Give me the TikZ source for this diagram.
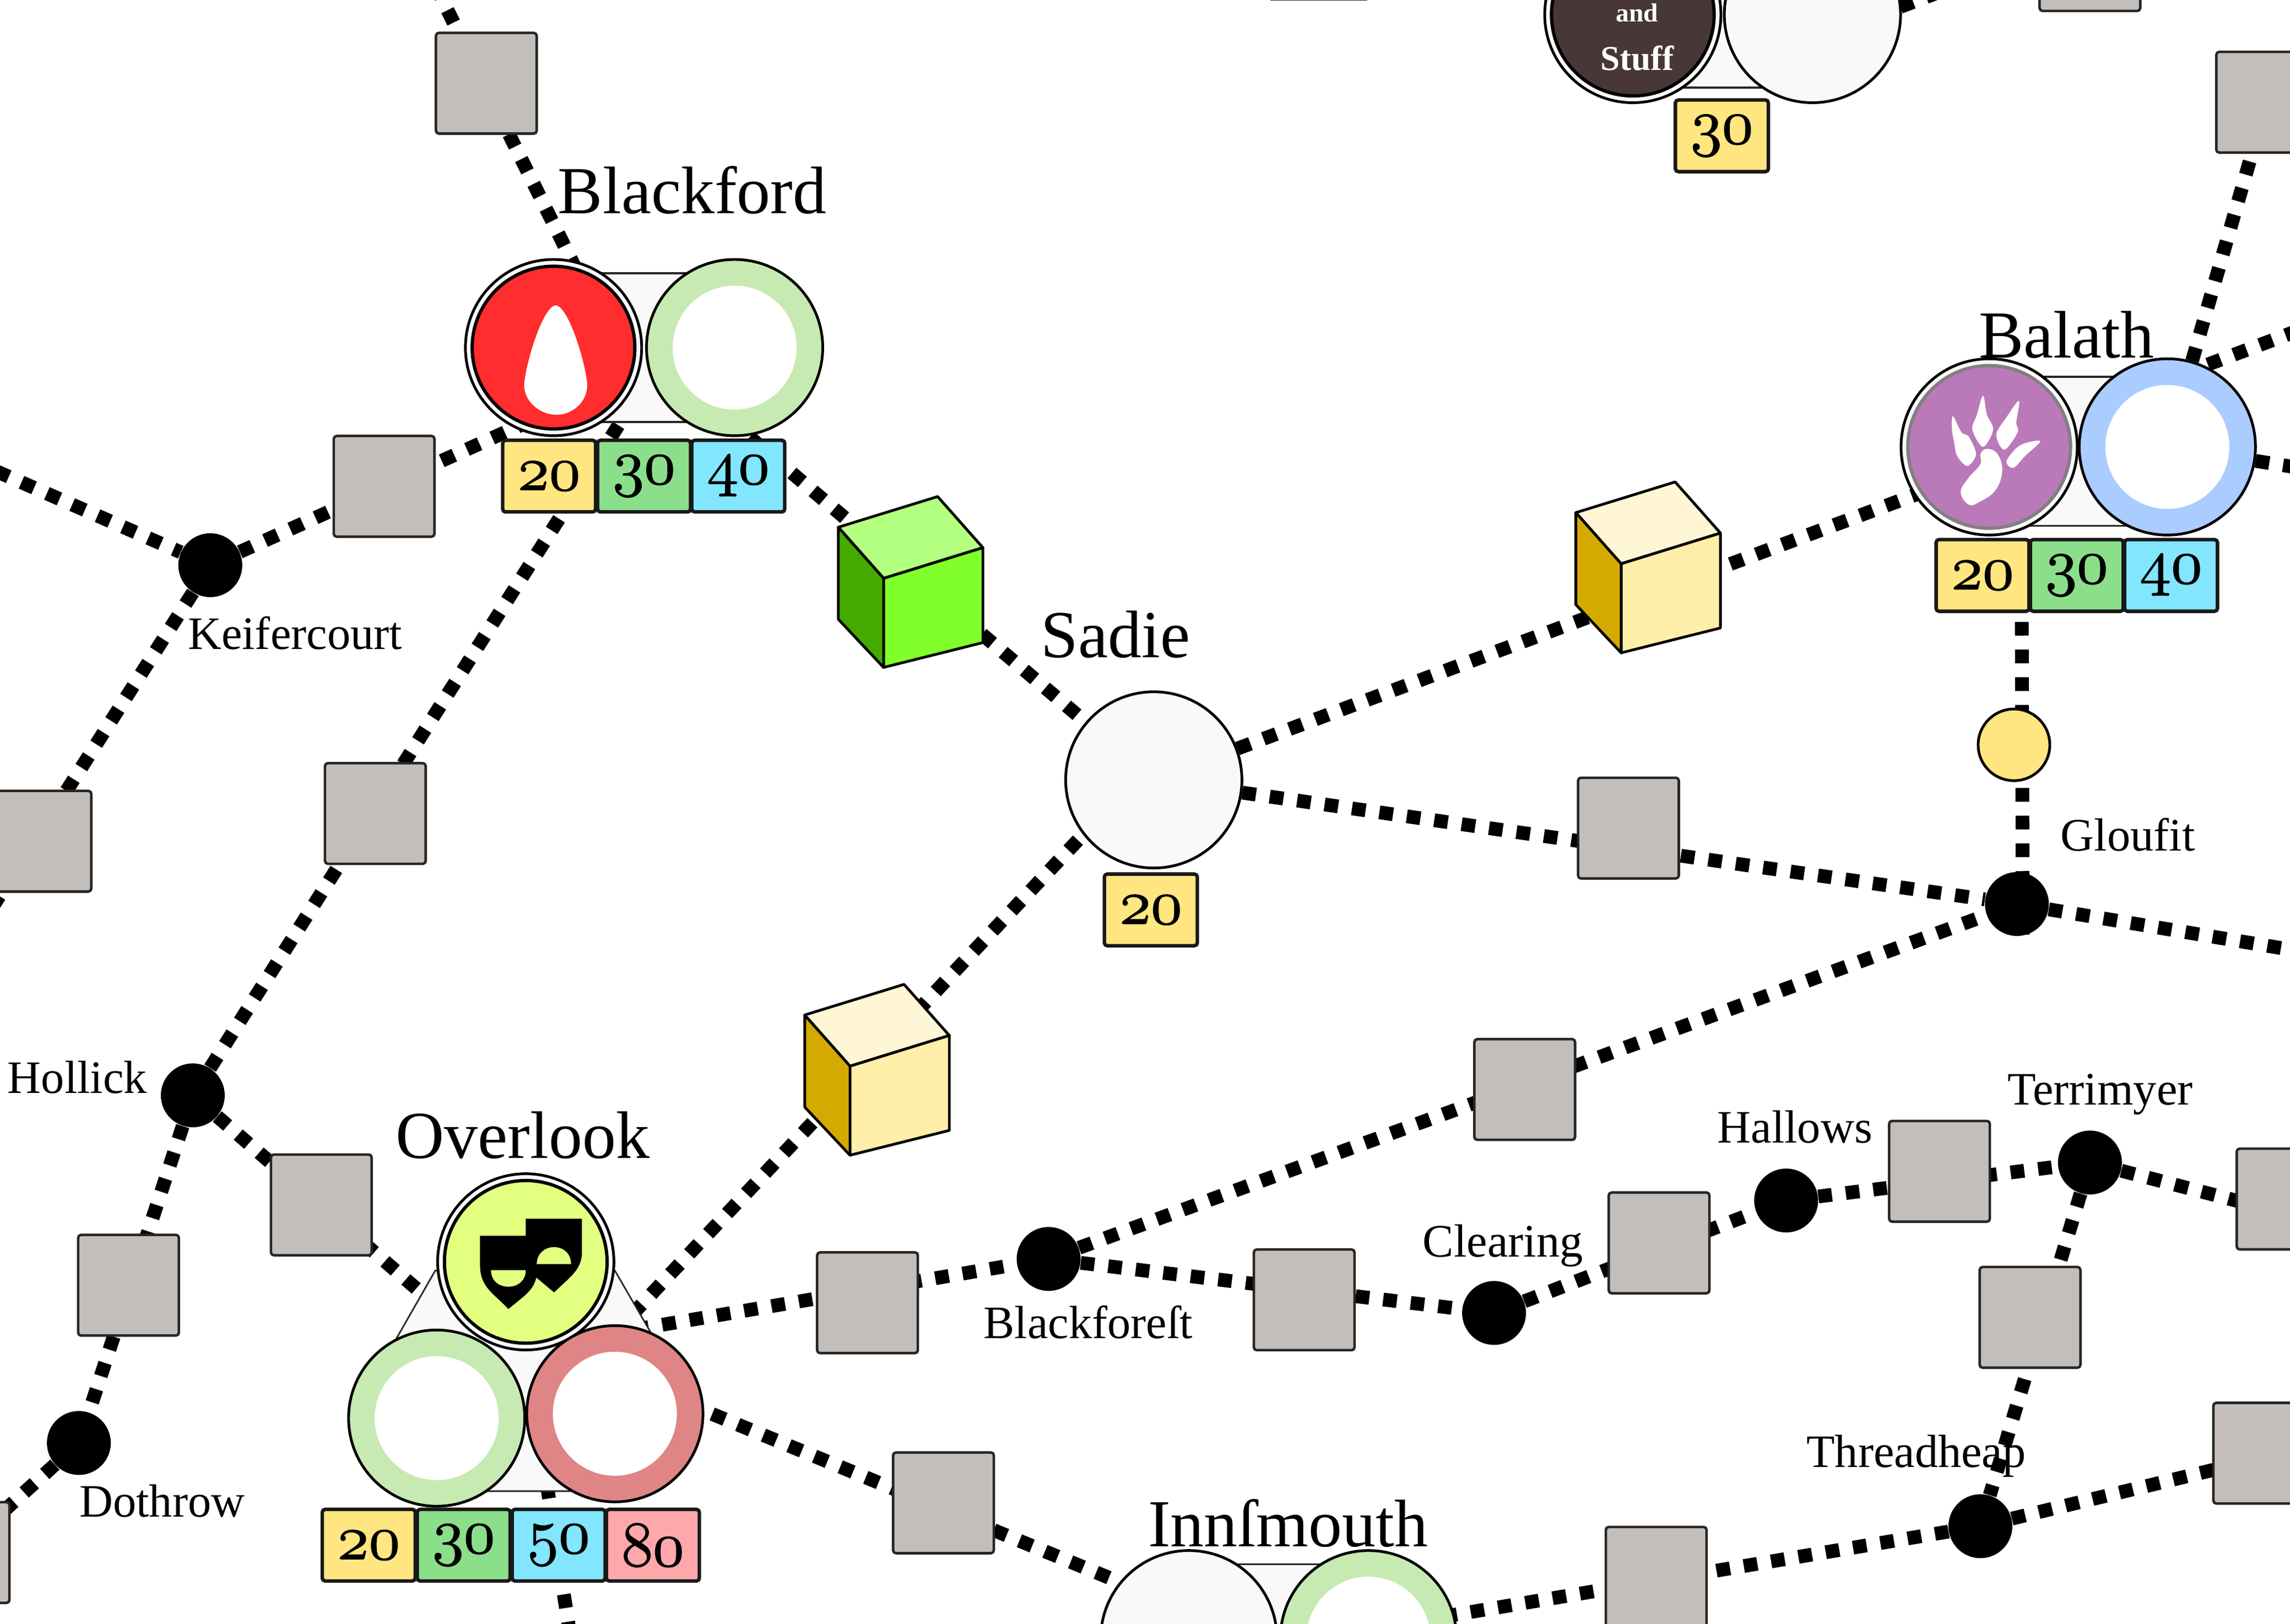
\documentclass[tikz,border=0pt]{standalone}
\usepackage{fix-cm}
\usepackage{amsmath}
\usepackage{fontspec}
\setmainfont{Liberation Serif}
\usepackage{tikz}
\usetikzlibrary{backgrounds}
\definecolor{sitegray}{HTML}{C3BEB9}
\definecolor{palecity}{HTML}{F9F9F9}
\definecolor{fareA}{HTML}{FFE680}
\definecolor{fareB}{HTML}{8BDF8B}
\definecolor{fareC}{HTML}{82E6FF}
\definecolor{fareD}{HTML}{FFA8AB}
\definecolor{ringG}{HTML}{C7EAB2}
\definecolor{ringR}{HTML}{DF8585}
\definecolor{ringB}{HTML}{AACCFF}
\definecolor{lime}{HTML}{E2FF80}
\definecolor{bloodred}{HTML}{FF2D2D}
\definecolor{mauve}{HTML}{BA79B9}
\definecolor{darkbrown}{HTML}{483737}
\definecolor{crateGa}{HTML}{B3FF80}
\definecolor{crateGb}{HTML}{80FF2A}
\definecolor{crateGc}{HTML}{44AA00}
\definecolor{crateYa}{HTML}{FFF6D5}
\definecolor{crateYb}{HTML}{FFEEAA}
\definecolor{crateYc}{HTML}{D4AA00}
\newcommand{\osn}[1]{{\special{pdf:literal direct 2 Tr 0.5 w}\usefont{OML}{cmm}{m}{it}#1\special{pdf:literal direct 0 Tr}}}
\newcommand{\crate}[5]{\begin{scope}[shift={(#2)},line width=1.4pt,line join=round]
\node[coordinate] (#1) at (49,30) {};
\draw[fill=#3] (0,0) -- (68,-21) -- (99,14) -- (31,35) -- cycle;
\draw[fill=#4] (31,35) -- (99,14) -- (99,79) -- (31,96) -- cycle;
\draw[fill=#5] (0,0) -- (31,35) -- (31,96) -- (0,63) -- cycle;
\end{scope}}
\begin{document}
\begin{tikzpicture}[x=0.02651cm,y=-0.02651cm,city/.style={shape=circle,draw=black,line width=1.4pt,minimum size=91pt,inner sep=0pt,fill=palecity},core/.style={city,minimum size=84pt,line width=1.7pt},hole/.style={shape=circle,fill=white,minimum size=64pt,inner sep=0pt},site/.style={shape=rectangle,rounded corners=1.5pt,draw=black!85,fill=sitegray,line width=1.3pt,minimum size=52pt,inner sep=0pt},hamlet/.style={shape=circle,fill=black,minimum size=33pt,inner sep=0pt},gold/.style={shape=circle,draw=black,line width=1.4pt,fill=fareA,minimum size=37pt,inner sep=0pt},fare/.style={shape=rectangle,rounded corners=1.5pt,draw=black!90,line width=1.8pt,minimum width=48pt,minimum height=37pt,inner sep=0pt,font=\fontsize{33}{35}\selectfont},link/.style={draw=black!85,fill=palecity,line width=1pt},road/.style={line width=7.1pt,dash pattern=on 7.1pt off 7.2pt},big/.style={anchor=base,inner sep=0pt,font=\fontsize{34.7}{38}\selectfont},small/.style={anchor=base,inner sep=0pt,font=\fontsize{24}{28}\selectfont}]
\useasboundingbox (0,0) rectangle (1568,1111.7);

% sites
\node[site] (sqa) at (333,57) {};
\node[site] (sqb) at (263,333) {};
\node[site] (sqc) at (257,557) {};
\node[site] (sqd) at (28,576) {};
\node[site] (sqe) at (220,825) {};
\node[site] (sqf) at (88,880) {};
\node[site] (sqg) at (594,892) {};
\node[site] (sqh) at (646,1029) {};
\node[site] (sqi) at (1044,746) {};
\node[site] (sqj) at (893,890) {};
\node[site] (sqk) at (1136,851) {};
\node[site] (sql) at (1328,802) {};
\node[site] (sqm) at (1390,902) {};
\node[site] (sqn) at (1115,567) {};
\node[site] (sqo) at (1134,1080) {};
\node[site] (sqp) at (1550,995) {};
\node[site] (sqq) at (1566,821) {};
\node[site] (sqr) at (1552,70) {};
\node[site] (sqs) at (1431,-27) {};
\node[site] (sqt) at (-28,1063) {};
\node[site] (squ) at (903,-35) {};

% hamlets
\node[hamlet] (keifer) at (144,387) {};
\node[hamlet] (hollick) at (132,750) {};
\node[hamlet] (dothrow) at (54,988) {};
\node[hamlet] (blackfor) at (718,862) {};
\node[hamlet] (clearing) at (1023,899) {};
\node[hamlet] (hallows) at (1223,822) {};
\node[hamlet] (terri) at (1431,796) {};
\node[hamlet] (thread) at (1356,1045) {};
\node[hamlet] (gloufit) at (1381,619) {};
\node[gold] (goldA) at (1379,510) {};

% road ends
\coordinate (offa) at (298,-10);
\coordinate (offb) at (-20,315);
\coordinate (offc) at (1585,653);
\coordinate (offd) at (1585,222);
\coordinate (offe) at (1585,322);
\coordinate (offf) at (392,1130);
\coordinate (offg) at (1345,-12);
\coordinate (offh) at (1600,840);
\coordinate (offi) at (1600,986);
\coordinate (offj) at (-20,1055);
\coordinate (offk) at (-30,660);
\coordinate (blackn) at (421,238);
\coordinate (blackk) at (441,253);
\coordinate (blacks) at (456,240);
\coordinate (blackford) at (441,238);
\coordinate (balathw) at (1423,297);
\coordinate (balathe) at (1423,283);
\coordinate (balathb) at (1384,312);
\coordinate (gloufs) at (1385,640);
\coordinate (sadiea) at (790,520);
\coordinate (overw) at (360,947);
\coordinate (overn) at (400,935);
\coordinate (overe) at (360,923);
\coordinate (overs) at (400,932);
\coordinate (innw) at (875,1128);
\coordinate (inne) at (875,1126);
\coordinate (tops) at (1248,25);

% crates
\crate{cubeA}{574,361}{crateGa}{crateGb}{crateGc}
\crate{cubeB}{1079,351}{crateYa}{crateYb}{crateYc}
\crate{cubeC}{551,695}{crateYa}{crateYb}{crateYc}

% Blackford
\draw[link] (379,187) rectangle (503,289);
\node[city] (bfa) at (379,238) {};
\node[core,fill=bloodred] (bfb) at (379,238) {};
\fill[white] (380.5,209) .. controls (372,210) and (361,245) .. (359,262) .. controls (358,275) and (370,284) .. (381,284) .. controls (392,284) and (403,275) .. (402,262) .. controls (400,245) and (389,210) .. (380.5,209) -- cycle;
\node[city,fill=ringG] (bfc) at (503,238) {};
\node[hole] (bfd) at (503,238) {};

% Sadie
\node[city] (sadie) at (790,534) {};

% Balath
\draw[link] (1362,258) rectangle (1484,360);
\node[city] (baa) at (1362,306) {};
\node[core,fill=mauve,draw=black!50] (bab) at (1362,306) {};
\begin{scope}[shift={(1362,306)}]
\fill[white] plot[smooth cycle,tension=0.55] coordinates {(-24.8,-21) (-19,-10) (-14,-7) (-9,5) (-15,13) (-22,6) (-24,-3.4) (-25.5,-12)};
\fill[white] plot[smooth cycle,tension=0.55] coordinates {(-4.2,-35) (-1.5,-22) (2.7,-11.8) (-4.2,0) (-11.5,-11.8) (-8.4,-22)};
\fill[white] plot[smooth cycle,tension=0.55] coordinates {(20.4,-31.5) (18.6,-16.8) (19.5,-10) (10.4,2) (4.9,-8.4) (11.8,-20.2)};
\fill[white] plot[smooth cycle,tension=0.55] coordinates {(35,-3.7) (24.9,5.9) (16.7,14.3) (11.8,10) (18.6,0.8) (26,-3)};
\fill[white] plot[smooth cycle,tension=0.7] coordinates {(-6,5) (-1.5,1.3) (5.8,5) (8.9,16.8) (4,30) (-6.9,37.8) (-14,39.5) (-19.5,31) (-14,21) (-6,11.8)};
\end{scope}
\node[city,fill=ringB] (bac) at (1484,306) {};
\node[hole] (bad) at (1484,306) {};

% Overlook
\draw[link,line width=0.8pt] (298,870) -- (421,870) -- (450,920) -- (430,1021) -- (290,1021) -- (266,926) -- cycle;
\node[city,fill=ringG] (ola) at (299,971) {};
\node[hole] (olb) at (299,971) {};
\node[city] (olc) at (360,864) {};
\node[core,fill=lime] (old) at (360,864) {};
\begin{scope}[shift={(360,863.5)}]
\fill[black] (-31.3,-17.3) -- (0,-17.3) -- (0,-29) -- (38.5,-29) -- (38.5,-6.4) .. controls (38.5,6) and (30,11) .. (19.4,21.4) -- (7.2,11.2) .. controls (5,20) and (0,23) .. (-11.9,32.8) .. controls (-22,22) and (-31.3,18) .. (-31.3,2.7) -- cycle;
\fill[lime] (-23.8,6.2) -- (0,6.2) .. controls (0,13) and (-5,17.5) .. (-11.9,17.5) .. controls (-19,17.5) and (-23.8,13) .. (-23.8,6.2) -- cycle;
\fill[lime] (7.5,2) -- (31,2) .. controls (31,-5) and (26,-9.6) .. (19.4,-9.6) .. controls (13,-9.6) and (7.5,-5) .. (7.5,2) -- cycle;
\end{scope}
\node[city,fill=ringR] (ole) at (421,968) {};
\node[hole] (olf) at (421,968) {};

% Innsmouth
\draw[link] (814,1071) rectangle (937,1173);
\node[city] (ina) at (814,1122) {};
\node[city,fill=ringG] (inb) at (937,1122) {};
\node[hole] (inc) at (937,1122) {};

% dark city at the top
\draw[link] (1118,-41) rectangle (1241,60);
\node[city] (tpa) at (1118,10) {};
\node[core,fill=darkbrown] (tpb) at (1118,10) {};
\node[city] (tpc) at (1241,10) {};
\node[anchor=base,inner sep=0pt,text=white,font=\fontsize{13.5}{15}\selectfont\bfseries] (tpd) at (1121,15) {and};
\node[anchor=base,inner sep=0pt,text=white,font=\fontsize{18}{20}\selectfont\bfseries] (tpe) at (1121,48) {Stuff};

% fares
\node[fare,fill=fareA] (faa) at (376,326) {\osn{20}};
\node[fare,fill=fareB] (fab) at (441,326) {\osn{30}};
\node[fare,fill=fareC] (fac) at (505.5,326) {\osn{40}};
\node[fare,fill=fareA] (fad) at (788,623) {\osn{20}};
\node[fare,fill=fareA] (fae) at (1357.5,394) {\osn{20}};
\node[fare,fill=fareB] (faf) at (1422,394) {\osn{30}};
\node[fare,fill=fareC] (fag) at (1486.5,394) {\osn{40}};
\node[fare,fill=fareA] (fah) at (252.5,1058) {\osn{20}};
\node[fare,fill=fareB] (fai) at (317.5,1058) {\osn{30}};
\node[fare,fill=fareC] (faj) at (382.5,1058) {\osn{50}};
\node[fare,fill=fareD] (fak) at (447,1058) {\osn{80}};
\node[fare,fill=fareA] (fal) at (1179,93) {\osn{30}};

% names
\node[big] (lba) at (474,146) {Blackford};
\node[big] (lbb) at (764,450) {Sadie};
\node[big] (lbc) at (1415,245) {Balath};
\node[big] (lbd) at (358,793) {Overlook};
\node[big] (lbe) at (882,1059) {Innſmouth};
\node[small] (lbf) at (202,444.5) {Keifercourt};
\node[small] (lbg) at (53,748.5) {Hollick};
\node[small] (lbh) at (111,1038.5) {Dothrow};
\node[small] (lbi) at (745,916.5) {Blackforeſt};
\node[small] (lbj) at (1029,860.5) {Clearing};
\node[small] (lbk) at (1229,782.5) {Hallows};
\node[small] (lbl) at (1438,756.5) {Terrimyer};
\node[small] (lbm) at (1312,1004.5) {Threadheap};
\node[small] (lbn) at (1457,582.5) {Gloufit};

% roads
\begin{scope}[on background layer]
\foreach \a/\b in {offa/blackn,offb/keifer,keifer/blackk,keifer/offk,hollick/blacks,hollick/overw,hollick/dothrow,dothrow/offj,blackford/sadie,sadie/balathw,sadie/gloufit,gloufit/offc,balathb/gloufs,sadiea/overn,overe/blackfor,blackfor/clearing,clearing/hallows,hallows/terri,terri/offh,terri/thread,thread/inne,thread/offi,blackfor/gloufit,overs/innw,overe/offf,bac/sqr,balathe/offd,bac/offe,tops/offg}
\draw[road] (\a) -- (\b);
\end{scope}
\end{tikzpicture}
\end{document}
